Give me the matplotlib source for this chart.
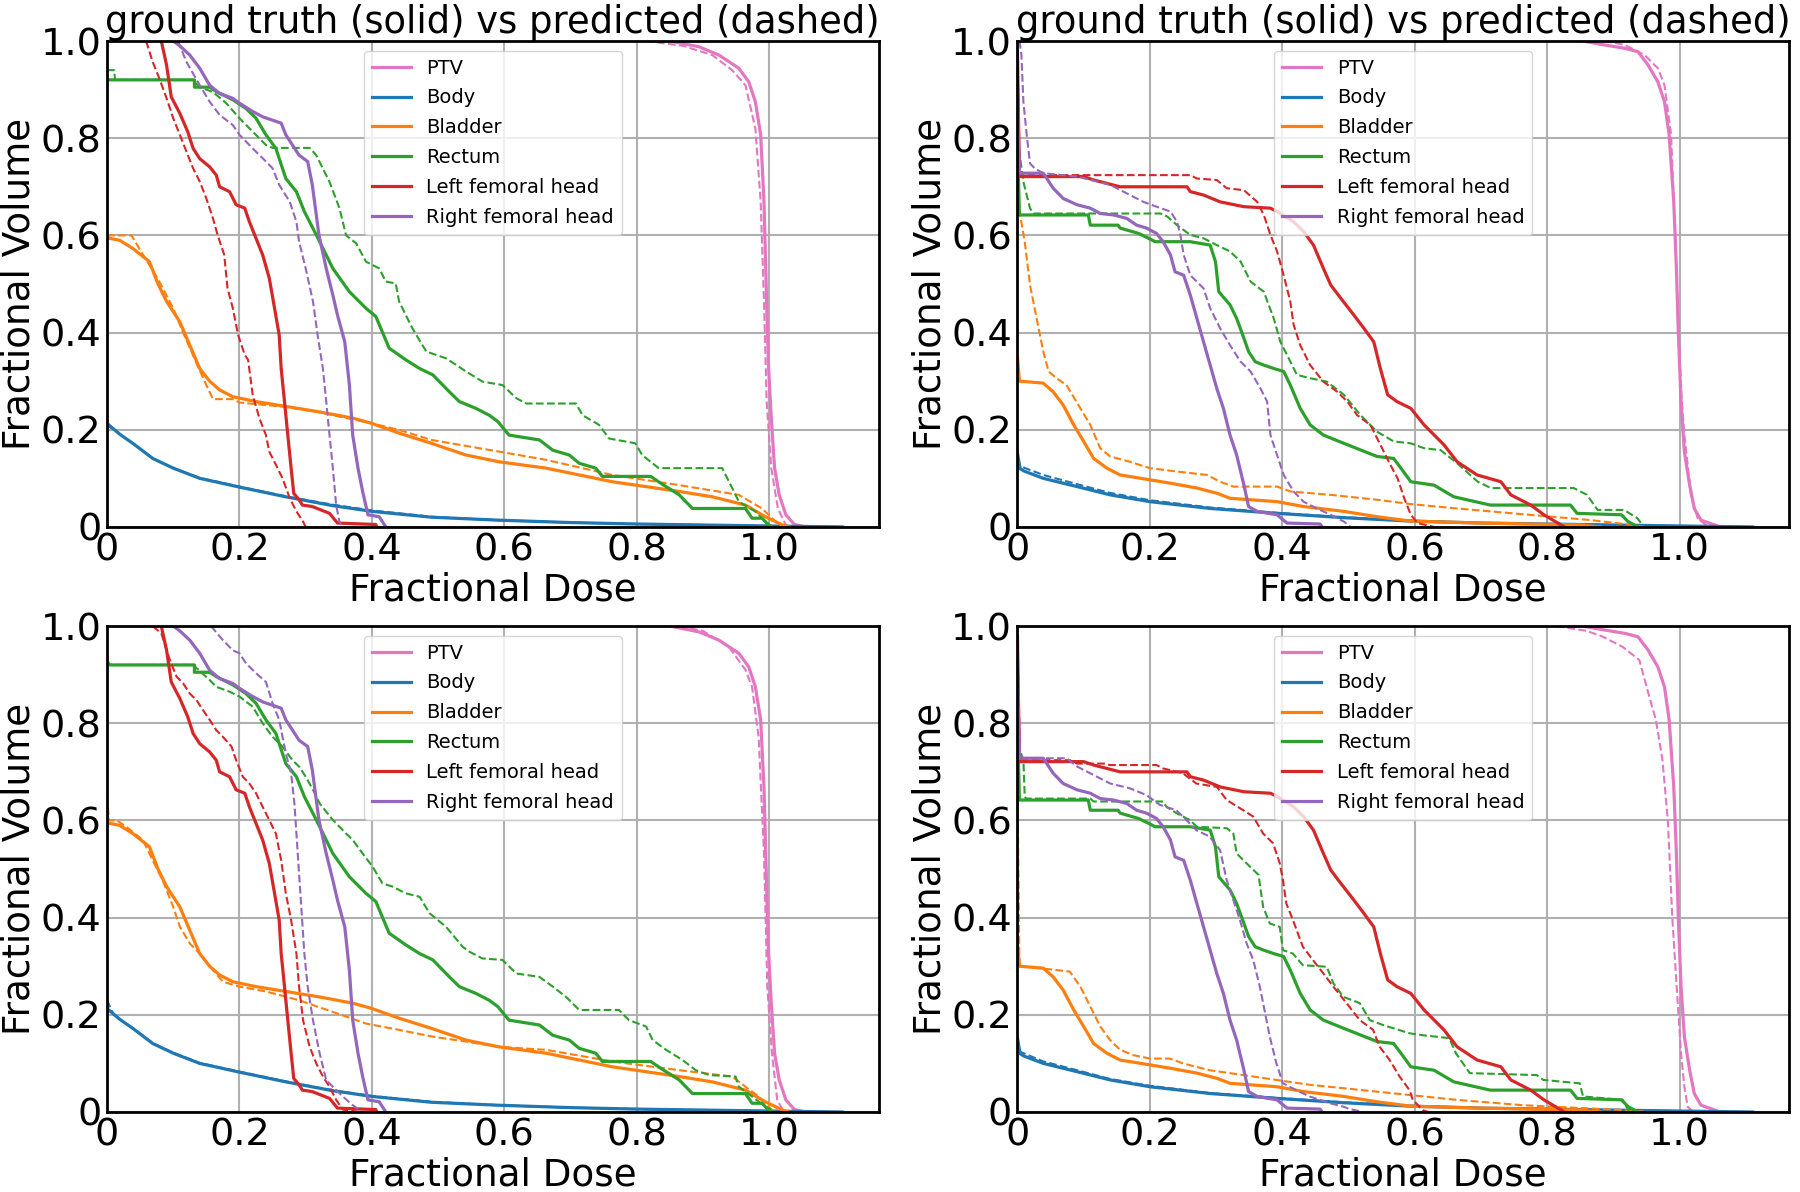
import matplotlib
matplotlib.use("Agg")
import matplotlib.pyplot as plt
import matplotlib.ticker as mtick

# structure names / colours (legend order)
structures = ["PTV", "Body", "Bladder", "Rectum", "Left femoral head", "Right femoral head"]
colors = ["tab:pink", "tab:blue", "tab:orange", "tab:green", "tab:red", "tab:purple"]
ticks = [0, 0.2, 0.4, 0.6, 0.8, 1.0]
title_text = "ground truth (solid) vs predicted (dashed)"

# ---- ground truth, patient A (left column) : (dose, volume) ----
ptv_gt_a = [(0.85, 1.0), (0.894, 0.988), (0.924, 0.971), (0.954, 0.944), (0.969, 0.916), (0.979, 0.875),
            (0.987, 0.807), (0.992, 0.669), (0.996, 0.464), (0.999, 0.326), (1.003, 0.224), (1.008, 0.121),
            (1.015, 0.066), (1.025, 0.025), (1.038, 0.005), (1.055, 0.0)]
body_gt_a = [(0, 0.213), (0.02, 0.19), (0.039, 0.172), (0.069, 0.141), (0.1, 0.121), (0.14, 0.1), (0.2, 0.082),
             (0.27, 0.062), (0.34, 0.044), (0.4, 0.032), (0.49, 0.02), (0.59, 0.014), (0.7, 0.009), (0.8, 0.006),
             (0.9, 0.004), (1.0, 0.002), (1.11, 0.0)]
bladder_gt_a = [(0, 0.595), (0.019, 0.59), (0.039, 0.573), (0.064, 0.546), (0.077, 0.5), (0.09, 0.464),
                (0.11, 0.422), (0.125, 0.374), (0.14, 0.326), (0.155, 0.3), (0.17, 0.282), (0.19, 0.268),
                (0.225, 0.258), (0.27, 0.248), (0.32, 0.237), (0.371, 0.224), (0.4, 0.213), (0.441, 0.193),
                (0.49, 0.172), (0.542, 0.148), (0.592, 0.134), (0.663, 0.121), (0.763, 0.093), (0.864, 0.073),
                (0.914, 0.062), (0.964, 0.045), (0.994, 0.021), (1.02, 0.004), (1.03, 0.0)]
rectum_gt_a = [(0, 0.92), (0.132, 0.92), (0.132, 0.905), (0.155, 0.905), (0.165, 0.896), (0.19, 0.879),
               (0.21, 0.861), (0.225, 0.841), (0.24, 0.807), (0.255, 0.779), (0.27, 0.717), (0.286, 0.69),
               (0.298, 0.649), (0.316, 0.601), (0.341, 0.532), (0.366, 0.484), (0.391, 0.45), (0.406, 0.433),
               (0.426, 0.368), (0.451, 0.344), (0.472, 0.326), (0.492, 0.313), (0.517, 0.278), (0.532, 0.258),
               (0.557, 0.244), (0.577, 0.23), (0.59, 0.217), (0.607, 0.189), (0.653, 0.179), (0.673, 0.158),
               (0.698, 0.148), (0.713, 0.131), (0.738, 0.121), (0.748, 0.104), (0.821, 0.104), (0.836, 0.09),
               (0.864, 0.066), (0.884, 0.038), (0.964, 0.038), (0.974, 0.018), (0.989, 0.018), (0.999, 0.004),
               (1.005, 0.0)]
lfh_gt_a = [(0.082, 1.0), (0.09, 0.95), (0.097, 0.885), (0.11, 0.851), (0.122, 0.813), (0.13, 0.779),
            (0.14, 0.758), (0.155, 0.741), (0.165, 0.724), (0.17, 0.7), (0.185, 0.69), (0.195, 0.663),
            (0.208, 0.656), (0.215, 0.628), (0.225, 0.594), (0.235, 0.56), (0.245, 0.512), (0.253, 0.45),
            (0.26, 0.395), (0.263, 0.326), (0.268, 0.258), (0.273, 0.189), (0.278, 0.121), (0.282, 0.069),
            (0.29, 0.056), (0.295, 0.045), (0.31, 0.042), (0.336, 0.028), (0.348, 0.008), (0.406, 0.005),
            (0.407, 0.0)]
rfh_gt_a = [(0.1, 1.0), (0.11, 0.99), (0.125, 0.971), (0.14, 0.944), (0.155, 0.909), (0.17, 0.892),
            (0.19, 0.882), (0.2, 0.872), (0.22, 0.855), (0.235, 0.844), (0.25, 0.837), (0.263, 0.831),
            (0.27, 0.807), (0.28, 0.786), (0.29, 0.765), (0.303, 0.752), (0.31, 0.704), (0.32, 0.601),
            (0.331, 0.532), (0.341, 0.477), (0.348, 0.436), (0.359, 0.381), (0.366, 0.292), (0.371, 0.189),
            (0.379, 0.121), (0.386, 0.073), (0.394, 0.025), (0.411, 0.021), (0.421, 0.0)]

# ---- prediction, top-left ----
ptv_tl = [(0.814, 1.0), (0.87, 0.99), (0.914, 0.971), (0.944, 0.94), (0.964, 0.909), (0.979, 0.82),
          (0.987, 0.669), (0.992, 0.464), (0.996, 0.258), (1.003, 0.121), (1.013, 0.038), (1.025, 0.004),
          (1.03, 0.0)]
body_tl = [(0, 0.21), (0.02, 0.19), (0.04, 0.171), (0.07, 0.14), (0.1, 0.121), (0.14, 0.101), (0.2, 0.083),
           (0.27, 0.063), (0.34, 0.046), (0.4, 0.034), (0.49, 0.021), (0.59, 0.014), (0.7, 0.009), (0.8, 0.006),
           (0.9, 0.004), (1.0, 0.002), (1.1, 0.0)]
bladder_tl = [(0, 0.6), (0.037, 0.6), (0.05, 0.57), (0.077, 0.51), (0.1, 0.45), (0.115, 0.4), (0.135, 0.337),
              (0.15, 0.292), (0.16, 0.263), (0.19, 0.263), (0.2, 0.256), (0.27, 0.247), (0.32, 0.236),
              (0.4, 0.213), (0.44, 0.2), (0.49, 0.179), (0.592, 0.155), (0.663, 0.138), (0.763, 0.107),
              (0.864, 0.086), (0.954, 0.066), (0.989, 0.038), (1.015, 0.004), (1.02, 0.0)]
rectum_tl = [(0, 0.94), (0.011, 0.94), (0.012, 0.92), (0.13, 0.92), (0.14, 0.905), (0.16, 0.895),
             (0.18, 0.872), (0.2, 0.841), (0.24, 0.786), (0.25, 0.78), (0.306, 0.78), (0.316, 0.765),
             (0.336, 0.71), (0.351, 0.656), (0.361, 0.6), (0.376, 0.584), (0.391, 0.546), (0.411, 0.532),
             (0.421, 0.505), (0.436, 0.501), (0.441, 0.464), (0.461, 0.409), (0.482, 0.361), (0.512, 0.347),
             (0.542, 0.32), (0.567, 0.299), (0.597, 0.292), (0.618, 0.265), (0.633, 0.254), (0.708, 0.254),
             (0.718, 0.23), (0.743, 0.21), (0.758, 0.182), (0.798, 0.172), (0.808, 0.148), (0.833, 0.121),
             (0.929, 0.121), (0.944, 0.08), (0.954, 0.052), (0.979, 0.032), (0.994, 0.011), (1.004, 0.0)]
lfh_tl = [(0.059, 1.0), (0.069, 0.957), (0.079, 0.923), (0.09, 0.882), (0.1, 0.841), (0.11, 0.807),
          (0.12, 0.772), (0.13, 0.738), (0.14, 0.711), (0.15, 0.676), (0.16, 0.635), (0.167, 0.601),
          (0.177, 0.56), (0.182, 0.491), (0.19, 0.45), (0.198, 0.395), (0.208, 0.354), (0.213, 0.344),
          (0.22, 0.272), (0.23, 0.224), (0.24, 0.189), (0.245, 0.155), (0.255, 0.128), (0.265, 0.1),
          (0.276, 0.059), (0.286, 0.032), (0.296, 0.011), (0.3, 0.0)]
rfh_tl = [(0.107, 1.0), (0.12, 0.957), (0.14, 0.909), (0.155, 0.875), (0.17, 0.848), (0.19, 0.827),
          (0.2, 0.807), (0.22, 0.779), (0.24, 0.752), (0.25, 0.738), (0.26, 0.704), (0.276, 0.669),
          (0.286, 0.628), (0.29, 0.587), (0.3, 0.532), (0.311, 0.464), (0.318, 0.395), (0.326, 0.326),
          (0.331, 0.258), (0.336, 0.189), (0.341, 0.121), (0.346, 0.045), (0.351, 0.011), (0.355, 0.0)]

# ---- prediction, bottom-left ----
ptv_bl = [(0.864, 1.0), (0.9, 0.99), (0.939, 0.957), (0.964, 0.91), (0.974, 0.875), (0.984, 0.77),
          (0.992, 0.532), (0.997, 0.258), (1.004, 0.121), (1.012, 0.025), (1.022, 0.0)]
body_bl = [(0, 0.23), (0.01, 0.2), (0.02, 0.19), (0.04, 0.172), (0.07, 0.141), (0.1, 0.122), (0.14, 0.101),
           (0.2, 0.083), (0.27, 0.063), (0.34, 0.045), (0.4, 0.033), (0.49, 0.021), (0.59, 0.014), (0.7, 0.009),
           (0.8, 0.006), (0.9, 0.004), (1.0, 0.002), (1.1, 0.0)]
bladder_bl = [(0, 0.65), (0.003, 0.6), (0.015, 0.6), (0.029, 0.587), (0.054, 0.56), (0.069, 0.518),
              (0.084, 0.477), (0.1, 0.422), (0.11, 0.381), (0.125, 0.347), (0.14, 0.326), (0.16, 0.292),
              (0.175, 0.268), (0.2, 0.258), (0.24, 0.248), (0.29, 0.23), (0.341, 0.206), (0.391, 0.182),
              (0.441, 0.169), (0.492, 0.155), (0.542, 0.145), (0.592, 0.134), (0.663, 0.128), (0.763, 0.104),
              (0.864, 0.086), (0.944, 0.073), (0.964, 0.052), (0.984, 0.032), (1.004, 0.004), (1.01, 0.0)]
rectum_bl = [(0, 0.93), (0.005, 0.92), (0.13, 0.92), (0.155, 0.889), (0.165, 0.875), (0.185, 0.865),
             (0.2, 0.855), (0.22, 0.834), (0.235, 0.8), (0.25, 0.772), (0.265, 0.752), (0.28, 0.724),
             (0.29, 0.711), (0.3, 0.69), (0.311, 0.663), (0.321, 0.635), (0.341, 0.601), (0.361, 0.573),
             (0.371, 0.56), (0.386, 0.532), (0.401, 0.505), (0.416, 0.47), (0.431, 0.464), (0.451, 0.45),
             (0.472, 0.443), (0.487, 0.409), (0.512, 0.381), (0.537, 0.34), (0.547, 0.33), (0.567, 0.316),
             (0.597, 0.313), (0.618, 0.285), (0.653, 0.278), (0.673, 0.258), (0.693, 0.237), (0.713, 0.21),
             (0.773, 0.21), (0.788, 0.189), (0.814, 0.176), (0.824, 0.148), (0.844, 0.128), (0.869, 0.107),
             (0.889, 0.086), (0.909, 0.076), (0.949, 0.073), (0.954, 0.052), (0.974, 0.032), (0.994, 0.011),
             (1.009, 0.0)]
lfh_bl = [(0.069, 1.0), (0.082, 0.985), (0.095, 0.93), (0.105, 0.896), (0.115, 0.882), (0.125, 0.861),
          (0.135, 0.848), (0.145, 0.827), (0.155, 0.807), (0.165, 0.786), (0.175, 0.772), (0.188, 0.752),
          (0.195, 0.724), (0.205, 0.69), (0.215, 0.676), (0.225, 0.656), (0.235, 0.628), (0.245, 0.601),
          (0.255, 0.573), (0.263, 0.518), (0.27, 0.45), (0.278, 0.395), (0.286, 0.326), (0.29, 0.258),
          (0.296, 0.189), (0.306, 0.134), (0.316, 0.1), (0.326, 0.073), (0.336, 0.052), (0.346, 0.025),
          (0.356, 0.005), (0.381, 0.0)]
rfh_bl = [(0.157, 1.0), (0.175, 0.971), (0.19, 0.95), (0.2, 0.944), (0.21, 0.923), (0.225, 0.903),
          (0.24, 0.885), (0.25, 0.841), (0.26, 0.807), (0.27, 0.738), (0.278, 0.697), (0.283, 0.635),
          (0.288, 0.532), (0.293, 0.429), (0.298, 0.326), (0.303, 0.258), (0.311, 0.189), (0.321, 0.121),
          (0.331, 0.066), (0.341, 0.052), (0.356, 0.032), (0.371, 0.014), (0.386, 0.0)]

# ---- ground truth, patient B (right column) ----
ptv_gt_b = [(0.853, 1.0), (0.886, 0.992), (0.917, 0.985), (0.937, 0.978), (0.952, 0.951), (0.967, 0.916),
            (0.977, 0.875), (0.984, 0.807), (0.991, 0.669), (0.995, 0.532), (0.998, 0.395), (1.002, 0.258),
            (1.007, 0.155), (1.015, 0.086), (1.022, 0.038), (1.032, 0.014), (1.053, 0.004), (1.06, 0.0)]
body_gt_b = [(0, 0.152), (0.004, 0.12), (0.01, 0.115), (0.039, 0.1), (0.09, 0.083), (0.14, 0.066),
             (0.2, 0.052), (0.291, 0.038), (0.392, 0.028), (0.493, 0.019), (0.594, 0.012), (0.7, 0.008),
             (0.8, 0.006), (0.9, 0.004), (1.0, 0.002), (1.11, 0.0)]
bladder_gt_b = [(0, 0.35), (0.003, 0.3), (0.039, 0.296), (0.054, 0.278), (0.069, 0.251), (0.085, 0.21),
                (0.1, 0.176), (0.115, 0.141), (0.135, 0.121), (0.155, 0.107), (0.2, 0.097), (0.231, 0.09),
                (0.271, 0.08), (0.302, 0.069), (0.321, 0.059), (0.392, 0.052), (0.432, 0.042), (0.493, 0.032),
                (0.543, 0.021), (0.594, 0.012), (0.7, 0.008), (0.85, 0.004), (0.88, 0.0)]
rectum_gt_b = [(0, 0.8), (0.003, 0.642), (0.107, 0.642), (0.11, 0.621), (0.152, 0.621), (0.155, 0.615),
               (0.183, 0.604), (0.198, 0.594), (0.208, 0.587), (0.261, 0.587), (0.291, 0.58), (0.299, 0.546),
               (0.304, 0.484), (0.321, 0.457), (0.331, 0.429), (0.342, 0.388), (0.349, 0.361), (0.359, 0.34),
               (0.372, 0.333), (0.387, 0.326), (0.402, 0.32), (0.412, 0.292), (0.427, 0.244), (0.442, 0.21),
               (0.462, 0.189), (0.493, 0.172), (0.543, 0.145), (0.568, 0.141), (0.579, 0.121), (0.594, 0.093),
               (0.629, 0.086), (0.659, 0.062), (0.714, 0.045), (0.835, 0.045), (0.845, 0.028), (0.912, 0.025),
               (0.922, 0.011), (0.937, 0.0)]
lfh_gt_b = [(0, 0.98), (0.003, 0.721), (0.1, 0.721), (0.115, 0.714), (0.155, 0.7), (0.256, 0.7), (0.261, 0.69),
            (0.281, 0.683), (0.306, 0.669), (0.342, 0.659), (0.382, 0.656), (0.392, 0.649), (0.417, 0.628),
            (0.432, 0.608), (0.447, 0.58), (0.462, 0.532), (0.473, 0.498), (0.488, 0.471), (0.508, 0.436),
            (0.523, 0.409), (0.538, 0.381), (0.548, 0.326), (0.559, 0.272), (0.573, 0.258), (0.594, 0.244),
            (0.614, 0.21), (0.644, 0.169), (0.664, 0.134), (0.694, 0.107), (0.73, 0.093), (0.745, 0.066),
            (0.775, 0.045), (0.795, 0.025), (0.816, 0.008), (0.826, 0.0)]
rfh_gt_b = [(0, 0.9), (0.003, 0.728), (0.039, 0.728), (0.054, 0.697), (0.069, 0.676), (0.09, 0.663),
            (0.11, 0.656), (0.125, 0.645), (0.145, 0.642), (0.165, 0.635), (0.18, 0.621), (0.195, 0.615),
            (0.21, 0.604), (0.22, 0.587), (0.231, 0.56), (0.238, 0.525), (0.251, 0.518), (0.261, 0.477),
            (0.271, 0.429), (0.281, 0.381), (0.291, 0.333), (0.301, 0.285), (0.311, 0.244), (0.321, 0.189),
            (0.331, 0.148), (0.342, 0.086), (0.349, 0.042), (0.362, 0.032), (0.392, 0.025), (0.407, 0.008),
            (0.457, 0.006), (0.46, 0.0)]

# ---- prediction, top-right ----
ptv_tr = [(0.886, 1.0), (0.917, 0.992), (0.947, 0.971), (0.967, 0.944), (0.977, 0.909), (0.987, 0.807),
          (0.993, 0.6), (0.998, 0.4), (1.003, 0.26), (1.007, 0.189), (1.017, 0.066), (1.027, 0.018),
          (1.043, 0.0)]
body_tr = [(0, 0.14), (0.004, 0.125), (0.039, 0.107), (0.09, 0.088), (0.14, 0.07), (0.2, 0.055),
           (0.291, 0.04), (0.392, 0.029), (0.493, 0.02), (0.594, 0.013), (0.7, 0.008), (0.8, 0.006),
           (0.9, 0.004), (1.0, 0.002), (1.1, 0.0)]
bladder_tr = [(0, 0.65), (0.003, 0.65), (0.011, 0.587), (0.019, 0.498), (0.029, 0.429), (0.039, 0.361),
              (0.047, 0.32), (0.059, 0.306), (0.074, 0.292), (0.089, 0.258), (0.11, 0.21), (0.125, 0.162),
              (0.14, 0.145), (0.17, 0.134), (0.2, 0.121), (0.241, 0.114), (0.286, 0.107), (0.306, 0.093),
              (0.326, 0.083), (0.392, 0.083), (0.412, 0.073), (0.473, 0.066), (0.543, 0.056), (0.594, 0.047),
              (0.664, 0.038), (0.714, 0.032), (0.866, 0.014), (0.917, 0.006), (0.947, 0.0)]
rectum_tr = [(0, 0.8), (0.009, 0.71), (0.019, 0.656), (0.024, 0.645), (0.216, 0.645), (0.226, 0.639),
             (0.241, 0.621), (0.261, 0.601), (0.281, 0.594), (0.301, 0.58), (0.321, 0.567), (0.337, 0.546),
             (0.352, 0.505), (0.372, 0.484), (0.387, 0.429), (0.397, 0.381), (0.407, 0.354), (0.422, 0.313),
             (0.442, 0.306), (0.467, 0.299), (0.493, 0.272), (0.518, 0.23), (0.543, 0.196), (0.568, 0.176),
             (0.594, 0.172), (0.614, 0.162), (0.639, 0.158), (0.664, 0.131), (0.695, 0.093), (0.715, 0.08),
             (0.84, 0.08), (0.86, 0.066), (0.876, 0.035), (0.916, 0.035), (0.936, 0.018), (0.946, 0.0)]
lfh_tr = [(0, 0.98), (0.003, 0.724), (0.261, 0.724), (0.271, 0.717), (0.301, 0.714), (0.316, 0.697),
          (0.342, 0.693), (0.362, 0.669), (0.372, 0.642), (0.382, 0.601), (0.392, 0.567), (0.402, 0.518),
          (0.412, 0.464), (0.417, 0.416), (0.427, 0.374), (0.442, 0.333), (0.462, 0.299), (0.483, 0.278),
          (0.498, 0.258), (0.513, 0.23), (0.533, 0.21), (0.548, 0.169), (0.563, 0.128), (0.574, 0.1),
          (0.584, 0.059), (0.594, 0.025), (0.604, 0.008), (0.629, 0.0)]
rfh_tr = [(0.003, 1.0), (0.006, 0.971), (0.009, 0.875), (0.014, 0.807), (0.019, 0.748), (0.026, 0.738),
          (0.039, 0.728), (0.09, 0.721), (0.14, 0.704), (0.17, 0.683), (0.19, 0.669), (0.21, 0.659),
          (0.231, 0.649), (0.241, 0.628), (0.246, 0.601), (0.251, 0.56), (0.261, 0.518), (0.281, 0.491),
          (0.291, 0.45), (0.306, 0.409), (0.321, 0.374), (0.337, 0.34), (0.352, 0.32), (0.367, 0.285),
          (0.377, 0.258), (0.382, 0.189), (0.392, 0.148), (0.402, 0.107), (0.417, 0.073), (0.432, 0.052),
          (0.452, 0.038), (0.473, 0.025), (0.493, 0.011), (0.503, 0.0)]

# ---- prediction, bottom-right ----
ptv_br = [(0.814, 1.0), (0.86, 0.99), (0.884, 0.978), (0.914, 0.957), (0.939, 0.93), (0.954, 0.855),
          (0.964, 0.807), (0.974, 0.724), (0.982, 0.601), (0.989, 0.395), (0.997, 0.224), (1.002, 0.121),
          (1.007, 0.052), (1.012, 0.011), (1.02, 0.0)]
body_br = [(0, 0.15), (0.004, 0.124), (0.039, 0.104), (0.09, 0.086), (0.14, 0.068), (0.2, 0.054),
           (0.291, 0.039), (0.392, 0.029), (0.493, 0.02), (0.594, 0.013), (0.7, 0.008), (0.8, 0.006),
           (0.9, 0.004), (1.0, 0.002), (1.1, 0.0)]
bladder_br = [(0, 0.68), (0.003, 0.3), (0.04, 0.295), (0.079, 0.289), (0.095, 0.258), (0.11, 0.217),
              (0.125, 0.176), (0.14, 0.148), (0.155, 0.128), (0.175, 0.117), (0.2, 0.11), (0.23, 0.11),
              (0.25, 0.1), (0.29, 0.086), (0.341, 0.076), (0.391, 0.066), (0.441, 0.056), (0.492, 0.049),
              (0.542, 0.042), (0.592, 0.035), (0.663, 0.025), (0.763, 0.014), (0.914, 0.004), (0.954, 0.0)]
rectum_br = [(0, 0.76), (0.009, 0.724), (0.011, 0.649), (0.013, 0.645), (0.11, 0.645), (0.115, 0.639),
             (0.22, 0.639), (0.225, 0.628), (0.24, 0.615), (0.26, 0.601), (0.271, 0.587), (0.316, 0.584),
             (0.326, 0.573), (0.331, 0.532), (0.351, 0.505), (0.364, 0.488), (0.371, 0.422), (0.381, 0.388),
             (0.396, 0.381), (0.401, 0.333), (0.416, 0.326), (0.431, 0.302), (0.467, 0.299), (0.477, 0.265),
             (0.492, 0.237), (0.517, 0.224), (0.532, 0.189), (0.552, 0.179), (0.592, 0.162), (0.612, 0.158),
             (0.652, 0.152), (0.662, 0.121), (0.683, 0.08), (0.784, 0.076), (0.794, 0.066), (0.849, 0.059),
             (0.854, 0.032), (0.914, 0.025), (0.924, 0.0)]
lfh_br = [(0, 0.95), (0.004, 0.724), (0.079, 0.724), (0.09, 0.717), (0.13, 0.717), (0.14, 0.714),
          (0.21, 0.714), (0.22, 0.707), (0.25, 0.697), (0.27, 0.676), (0.301, 0.669), (0.316, 0.642),
          (0.341, 0.621), (0.356, 0.608), (0.371, 0.573), (0.386, 0.553), (0.396, 0.512), (0.401, 0.477),
          (0.406, 0.429), (0.416, 0.395), (0.431, 0.34), (0.446, 0.313), (0.462, 0.285), (0.477, 0.258),
          (0.497, 0.224), (0.517, 0.189), (0.537, 0.169), (0.547, 0.134), (0.562, 0.107), (0.577, 0.073),
          (0.592, 0.045), (0.597, 0.025), (0.612, 0.004), (0.62, 0.0)]
rfh_br = [(0, 0.97), (0.004, 0.728), (0.074, 0.728), (0.09, 0.711), (0.11, 0.697), (0.14, 0.676),
          (0.17, 0.666), (0.195, 0.652), (0.215, 0.632), (0.24, 0.621), (0.255, 0.601), (0.27, 0.58),
          (0.29, 0.567), (0.306, 0.539), (0.316, 0.477), (0.326, 0.436), (0.336, 0.395), (0.346, 0.347),
          (0.356, 0.313), (0.366, 0.258), (0.373, 0.21), (0.381, 0.155), (0.391, 0.1), (0.401, 0.059),
          (0.421, 0.045), (0.441, 0.032), (0.472, 0.018), (0.492, 0.011), (0.502, 0.006), (0.522, 0.0)]

gt_a = [ptv_gt_a, body_gt_a, bladder_gt_a, rectum_gt_a, lfh_gt_a, rfh_gt_a]
gt_b = [ptv_gt_b, body_gt_b, bladder_gt_b, rectum_gt_b, lfh_gt_b, rfh_gt_b]
pred_tl = [ptv_tl, body_tl, bladder_tl, rectum_tl, lfh_tl, rfh_tl]
pred_bl = [ptv_bl, body_bl, bladder_bl, rectum_bl, lfh_bl, rfh_bl]
pred_tr = [ptv_tr, body_tr, bladder_tr, rectum_tr, lfh_tr, rfh_tr]
pred_br = [ptv_br, body_br, bladder_br, rectum_br, lfh_br, rfh_br]


def zero_fmt(v, pos):
    return "0" if abs(v) < 1e-9 else f"{v:.1f}"


def draw_panel(ax, gt, pred, with_title):
    handles = []
    for name, col, g, p in zip(structures, colors, gt, pred):
        gx, gy = zip(*g)
        px, py = zip(*p)
        h, = ax.plot(gx, gy, color=col, lw=2.3, label=name)
        ax.plot(px, py, color=col, lw=1.5, ls="--")
        handles.append(h)
    ax.set_xlim(0, 1.165)
    ax.set_ylim(0, 1)
    ax.set_xticks(ticks)
    ax.set_yticks(ticks)
    ax.xaxis.set_major_formatter(mtick.FuncFormatter(zero_fmt))
    ax.yaxis.set_major_formatter(mtick.FuncFormatter(zero_fmt))
    ax.tick_params(labelsize=27.5, length=0, pad=4)
    ax.grid(True, color="#b0b0b0", linewidth=1.5)
    ax.set_axisbelow(True)
    for s in ax.spines.values():
        s.set_linewidth(2)
        s.set_color("black")
    ax.set_xlabel("Fractional Dose", fontsize=26.8, labelpad=2)
    ax.set_ylabel("Fractional Volume", fontsize=26.8, labelpad=2)
    if with_title:
        ax.set_title(title_text, fontsize=26.6, pad=0)
    ax.legend(handles=handles, loc="upper center", fontsize=14, labelspacing=0.56)


fig, axes = plt.subplots(2, 2, figsize=(18, 11.92), dpi=100)
fig.subplots_adjust(left=107 / 1800, right=1789 / 1800, top=1 - 41 / 1192,
                    bottom=1 - 1112 / 1192, wspace=0.18, hspace=0.204)

draw_panel(axes[0, 0], gt_a, pred_tl, True)
draw_panel(axes[0, 1], gt_b, pred_tr, True)
draw_panel(axes[1, 0], gt_a, pred_bl, False)
draw_panel(axes[1, 1], gt_b, pred_br, False)

fig.savefig("out.png", dpi=100)
